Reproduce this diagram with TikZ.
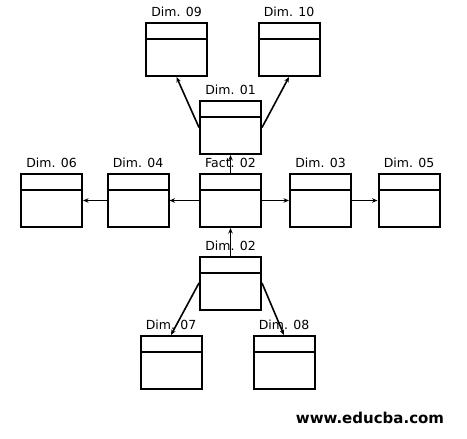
\documentclass[tikz,border=0pt]{standalone}
\usepackage{fontspec}
\setmainfont{DejaVu Sans}
\usetikzlibrary{arrows.meta,positioning}
\usepackage{xcolor}
\definecolor{edInk}{RGB}{0,0,0}
\tikzset{
    dimbox/.style={
        draw=edInk,line width=2pt,minimum width=61pt,minimum height=53pt,
        inner sep=0pt,fill=white,
        path picture={\draw[line width=2pt,edInk]
            ([yshift=-16pt]path picture bounding box.north west) --
            ([yshift=-16pt]path picture bounding box.north east);}
    },
    lbl/.style={
        font=\fontsize{12.5}{14}\selectfont,text=edInk,inner sep=0pt,
        label distance=5pt
    },
    arrow/.style={
        -{Stealth[length=5.5pt,width=4.5pt]},line width=1.6pt,draw=edInk
    }
}

\begin{document}
\begin{tikzpicture}[x=1pt,y=-1pt]
\useasboundingbox (0,0) rectangle (467,439);

% top branch
\node[dimbox,label={[lbl]above:Dim. 09}](d09) at (176.5,49.5) {};
\node[dimbox,label={[lbl]above:Dim. 10}](d10) at (289,49.5) {};
\node[dimbox,label={[lbl]above:Dim. 01}](d01) at (230.5,127.5) {};

% middle row
\node[dimbox,label={[lbl]above:Dim. 06}](d06) at (51.5,200.5) {};
\node[dimbox,label={[lbl]above:Dim. 04}](d04) at (138,200.5) {};
\node[dimbox,label={[lbl]above:Fact. 02}](f02) at (230.5,200.5) {};
\node[dimbox,label={[lbl]above:Dim. 03}](d03) at (320.5,200.5) {};
\node[dimbox,label={[lbl]above:Dim. 05}](d05) at (409,200.5) {};

% bottom branch
\node[dimbox,label={[lbl]above:Dim. 02}](d02) at (230.5,283) {};
\node[dimbox,label={[lbl]above:Dim. 07}](d07) at (171,362.5) {};
\node[dimbox,label={[lbl]above:Dim. 08}](d08) at (284,362.5) {};

\draw[arrow](f02)--(d04);
\draw[arrow](d04)--(d06);
\draw[arrow](f02)--(d03);
\draw[arrow](d03)--(d05);
\draw[arrow](f02.north)--(d01.south);
\draw[arrow](d02.north)--(f02.south);
\draw[arrow](d01.west)--(d09.south);
\draw[arrow](d01.east)--(d10.south);
\draw[arrow](d02.west)--(d07.north);
\draw[arrow](d02.east)--(d08.north);

\node[font=\fontsize{15}{17}\selectfont\bfseries,text=edInk](web) at (370,418) {www.educba.com};

\end{tikzpicture}
\end{document}
